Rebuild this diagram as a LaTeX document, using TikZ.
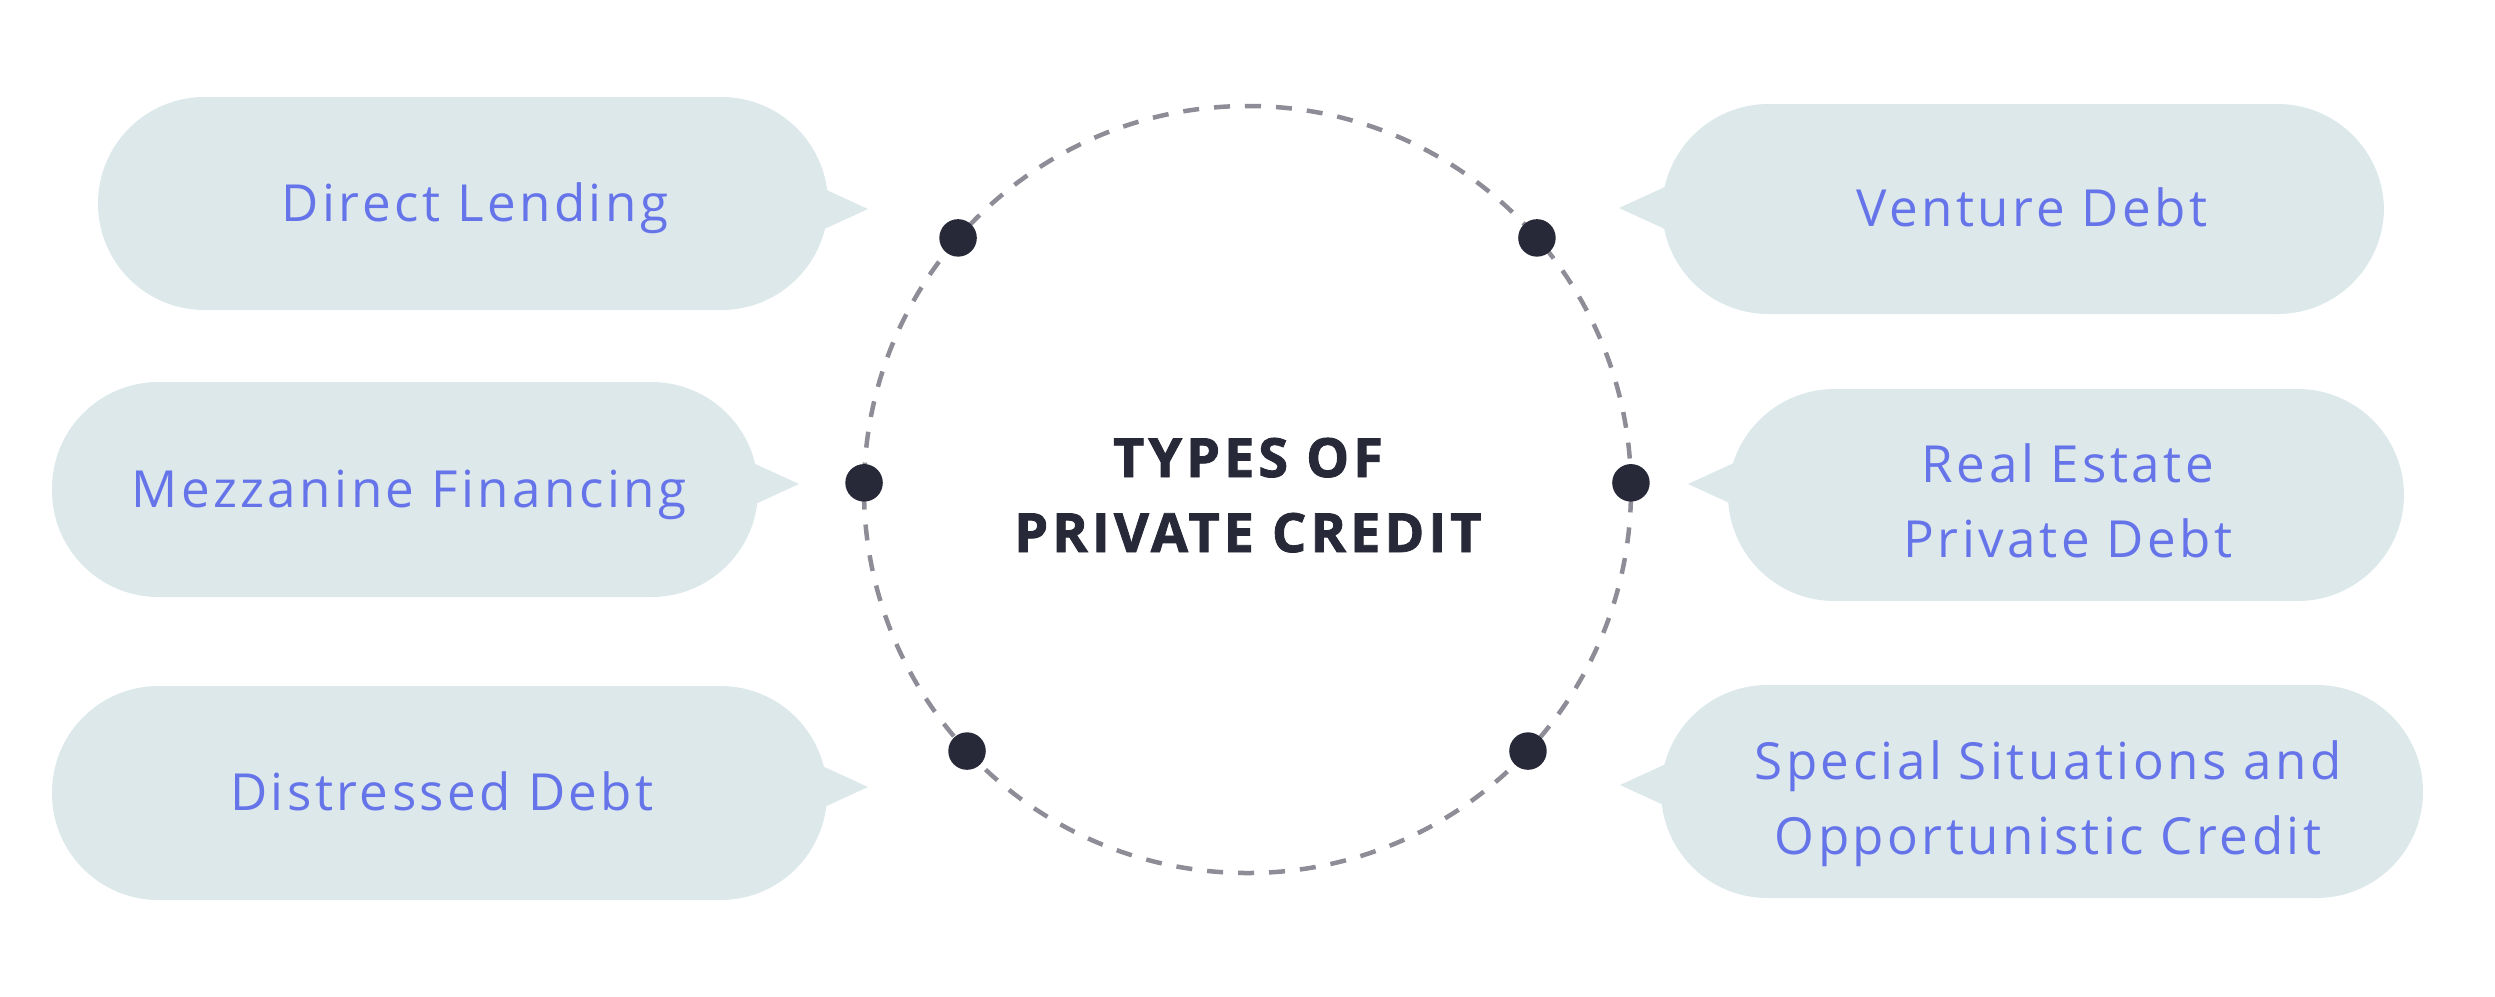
\documentclass[tikz,border=0pt]{standalone}
\usepackage{fontspec}
\setmainfont{Open Sans}
\newfontfamily\labelfamily{Open Sans}[LetterSpace=6.8]
\newfontfamily\titlefamily{Open Sans}[LetterSpace=7.5, BoldFeatures={FakeBold=1.6}]
\usetikzlibrary{fit}
\definecolor{bubblefill}{HTML}{DCE8EA}
\definecolor{labelblue}{HTML}{6674EA}
\definecolor{dotdark}{HTML}{272838}
\definecolor{ringgray}{HTML}{8D8C97}
\begin{document}
\begin{tikzpicture}[x=0.4pt,y=-0.4pt,
  bubble/.style={rectangle, fill=bubblefill, draw=none, inner sep=0pt, outer sep=0pt, rounded corners=42.6pt},
  ptr/.style={fill=bubblefill, draw=none},
  lbl/.style={anchor=base, text=labelblue, inner sep=0pt, font=\labelfamily\fontsize{20.45pt}{30pt}\selectfont},
  ttl/.style={anchor=base, text=dotdark, inner sep=0pt, font=\titlefamily\bfseries\fontsize{21.6pt}{30pt}\selectfont},
  dotmark/.style={circle, fill=dotdark, draw=none, inner sep=0pt, minimum size=15pt},
  ring/.style={circle, draw=ringgray, line width=1.8pt, dash pattern=on 6.4pt off 6pt, inner sep=0pt, outer sep=0pt, minimum size=306.8pt}
]
\useasboundingbox (0,0) rectangle (2495,996);

% dashed ring
\node[ring] (hub) at (1247.5,489.5) {};

% bubbles (left side)
\node[bubble, fit={(98,97) (828,310)}] (dl) {};
\coordinate (dl-tip) at (868,209);
\fill[ptr] (dl-tip) -- ++(-72,-33) -- ++(0,66) -- cycle;

\node[bubble, fit={(52,382) (758,597)}] (mz) {};
\coordinate (mz-tip) at (799,484);
\fill[ptr] (mz-tip) -- ++(-72,-33) -- ++(0,66) -- cycle;

\node[bubble, fit={(52,686) (827,900)}] (dd) {};
\coordinate (dd-tip) at (868,787);
\fill[ptr] (dd-tip) -- ++(-72,-33) -- ++(0,66) -- cycle;

% bubbles (right side)
\node[bubble, fit={(1662,104) (2384,314)}] (vd) {};
\coordinate (vd-tip) at (1619,208);
\fill[ptr] (vd-tip) -- ++(72,-33) -- ++(0,66) -- cycle;

\node[bubble, fit={(1728,389) (2404,601)}] (re) {};
\coordinate (re-tip) at (1688,484);
\fill[ptr] (re-tip) -- ++(72,-33) -- ++(0,66) -- cycle;

\node[bubble, fit={(1661,685) (2423,898)}] (ss) {};
\coordinate (ss-tip) at (1620,785);
\fill[ptr] (ss-tip) -- ++(72,-33) -- ++(0,66) -- cycle;

% labels
\node[lbl] (dl-t) at (475,221) {Direct Lending};
\node[lbl] (mz-t) at (409,507) {Mezzanine Financing};
\node[lbl] (dd-t) at (442,810) {Distressed Debt};
\node[lbl] (vd-t) at (2032,226) {Venture Debt};
\node[lbl] (re-t) at (2068,482) {\begin{tabular}[t]{@{}c@{}}Real Estate\\Private Debt\end{tabular}};
\node[lbl] (ss-t) at (2048,779) {\begin{tabular}[t]{@{}c@{}}Special Situations and\\Opportunistic Credit\end{tabular}};

% title
\node[ttl] (title) at (1248,477) {\begin{tabular}[t]{@{}c@{}}TYPES OF\\PRIVATE CREDIT\end{tabular}};

% dots on the ring
\node[dotmark] (p1) at (hub.139) {};
\node[dotmark] (p2) at (hub.41) {};
\node[dotmark] (p3) at (hub.179) {};
\node[dotmark] (p4) at (hub.1) {};
\node[dotmark] (p5) at (hub.223) {};
\node[dotmark] (p6) at (hub.317) {};
\end{tikzpicture}
\end{document}
